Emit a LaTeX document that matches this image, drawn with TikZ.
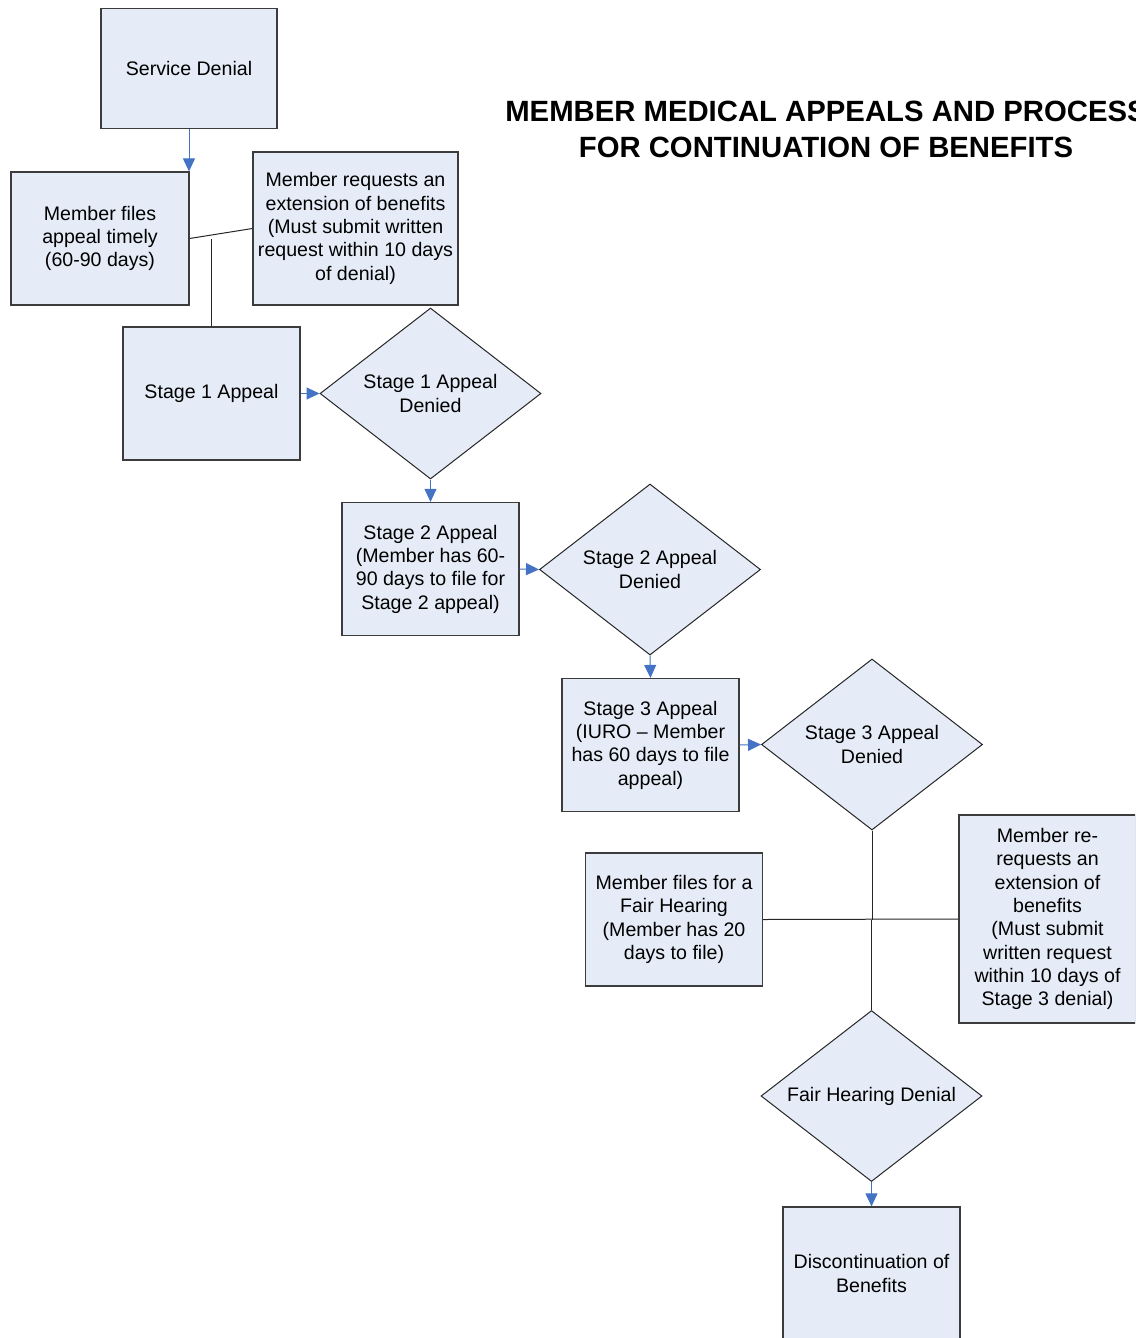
\documentclass[tikz,border=0pt]{standalone}
\usepackage{fontspec}
\setmainfont{Liberation Sans}
\usetikzlibrary{shapes.geometric,arrows.meta}
\definecolor{boxfill}{RGB}{230,236,247}
\definecolor{boxline}{RGB}{60,60,60}
\definecolor{arrowblue}{RGB}{68,114,196}
\begin{document}
\begin{tikzpicture}[x=1pt,y=-1pt,
  every node/.style={font=\fontsize{19.6}{23.3}\selectfont},
  pbox/.style={draw=boxline,fill=boxfill,line width=1.2pt,align=center,inner sep=0pt,
    minimum width=177pt,minimum height=133pt},
  dia/.style={diamond,shape aspect=1.29,draw=black!85,fill=boxfill,line width=1pt,align=center,inner sep=0pt,
    minimum width=221pt,minimum height=171pt},
  arr/.style={draw=arrowblue,line width=1pt,-{Triangle[length=13pt,width=12pt]}},
  conn/.style={draw=black!85,line width=1pt}]
\useasboundingbox (0,0) rectangle (1135,1338);
\clip (0,0) rectangle (1135,1338);
\node[font=\bfseries\fontsize{29.3}{35.5}\selectfont,align=center] (title) at (826,129.5)
  {MEMBER MEDICAL APPEALS AND PROCESS\\FOR CONTINUATION OF BENEFITS};
\node[pbox,minimum width=176pt,minimum height=120pt] (sd) at (189,68.5) {Service Denial};
\node[pbox,minimum width=178pt,minimum height=133pt] (mf) at (100,238.5)
  {Member files\\appeal timely\\(60-90 days)};
\node[pbox,minimum width=205pt,minimum height=153pt] (ext) at (355.5,228.5)
  {Member requests an\\extension of benefits\\(Must submit written\\request within 10 days\\of denial)};
\node[pbox] (s1) at (211.5,393.5) {Stage 1 Appeal};
\node[dia] (d1) at (430.5,393.5) {Stage 1 Appeal\\Denied};
\node[pbox] (s2) at (430.5,569)
  {Stage 2 Appeal\\(Member has 60-\\90 days to file for\\Stage 2 appeal)};
\node[dia] (d2) at (650,569.5) {Stage 2 Appeal\\Denied};
\node[pbox] (s3) at (650.5,745)
  {Stage 3 Appeal\\(IURO -- Member\\has 60 days to file\\appeal)};
\node[dia] (d3) at (872,744.5) {Stage 3 Appeal\\Denied};
\node[pbox] (fh) at (674,919.5)
  {Member files for a\\Fair Hearing\\(Member has 20\\days to file)};
\node[pbox,minimum height=208pt] (rr) at (1047.5,919)
  {Member re-\\requests an\\extension of\\benefits\\(Must submit\\written request\\within 10 days of\\Stage 3 denial)};
\node[dia] (d4) at (871.5,1096) {Fair Hearing Denial};
\node[pbox] (dc) at (871.5,1273.5) {Discontinuation of\\Benefits};
\draw[arr] (sd.south) -- (sd.south |- mf.north);
\draw[conn] (mf.east) -- (ext.west);
\draw[conn] (s1.north |- mf.east) -- (s1.north);
\draw[arr] (s1.east) -- (d1.west);
\draw[arr] (d1.south) -- (s2.north);
\draw[arr] (s2.east) -- (d2.west);
\draw[arr] (d2.south) -- (s3.north);
\draw[arr] (s3.east) -- (d3.west);
\coordinate (j3) at (d3.south |- fh.east);
\draw[conn] (d3.south) -- (j3);
\draw[conn] (fh.east) -- (rr.west);
\draw[conn] (d4.north |- fh.east) -- (d4.north);
\draw[arr] (d4.south) -- (dc.north);
\end{tikzpicture}
\end{document}
